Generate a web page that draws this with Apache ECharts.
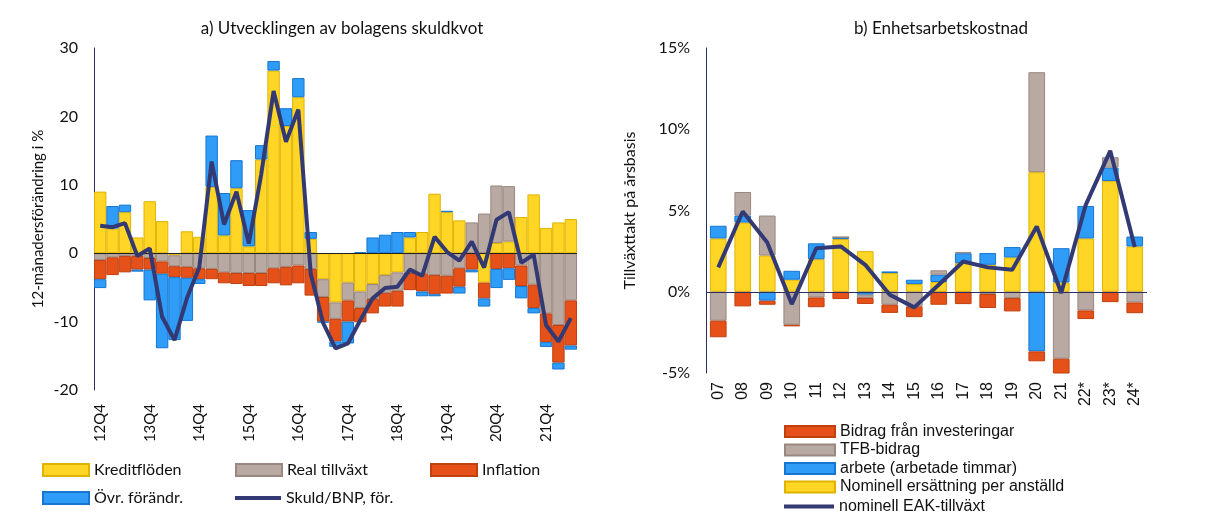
<!DOCTYPE html>
<html>
<head>
<meta charset="utf-8">
<script src="https://cdn.jsdelivr.net/npm/echarts@6/dist/echarts.min.js"></script>
<style>
  html, body { margin: 0; padding: 0; background: #fff; }
  #main { width: 1206px; height: 516px; }
</style>
</head>
<body>
<div id="main"></div>
<script>
// a) skuldkvot, kvartal
var quarters = ['12Q4','13Q1','13Q2','13Q3','13Q4','14Q1','14Q2','14Q3','14Q4','15Q1','15Q2','15Q3','15Q4',
  '16Q1','16Q2','16Q3','16Q4','17Q1','17Q2','17Q3','17Q4','18Q1','18Q2','18Q3','18Q4','19Q1','19Q2','19Q3','19Q4',
  '20Q1','20Q2','20Q3','20Q4','21Q1','21Q2','21Q3','21Q4','22Q1','22Q2'];
var kredit = [9.0, 3.6, 6.0, 2.3, 7.6, 4.7, -0.3, 3.2, 2.4, 9.7, 2.6, 9.5, 1.0, 13.7, 26.7, 18.6, 22.8, 2.1,
  -3.8, -7.2, -4.3, -5.6, -4.5, -3.2, -2.8, 2.3, 3.1, 8.7, 6.0, 4.8, 0, -4.3, 1.5, 1.7, 5.3, 8.6, 3.7, 4.5, 5.0];
var realTillvaxt = [-1.0, -0.6, -0.4, -0.4, -0.7, -1.2, -1.6, -2.0, -2.2, -2.3, -2.8, -2.9, -2.9, -2.9, -2.2, -2.0,
  -1.8, -2.3, -2.6, -2.4, -2.6, -2.4, -2.2, -2.6, -2.7, -2.9, -3.0, -3.2, -3.3, -2.2, 4.5, 5.8, 8.4, 8.1, -1.8,
  -4.6, -8.8, -10.5, -6.9];
var inflation = [-2.8, -2.6, -2.4, -2.0, -1.7, -1.8, -1.6, -1.6, -1.6, -1.5, -1.6, -1.6, -1.9, -1.9, -2.2, -2.7,
  -2.6, -3.9, -3.6, -3.3, -3.1, -2.1, -2.1, -2.0, -2.3, -2.5, -2.6, -2.8, -2.6, -2.7, -2.4, -2.3, -2.3, -2.2, -3.0,
  -3.4, -4.2, -5.5, -6.6];
var ovrForandr = [-1.3, 3.3, 1.1, -0.3, -4.5, -10.9, -9.2, -6.3, -0.7, 7.5, 6.2, 4.1, 5.3, 2.1, 1.4, 2.6, 2.8, 1.0,
  -0.15, -0.8, -3.2, 0.15, 2.3, 2.7, 3.1, 0.8, -0.7, -0.3, 0.2, -1.0, -0.4, -1.2, -2.8, -1.7, -1.8, -0.8, -0.7,
  -1.0, -0.6];
var skuldBnp = [4.0, 3.8, 4.4, -0.4, 0.7, -9.3, -12.7, -6.6, -2.1, 13.4, 4.2, 9.0, 1.4, 11.5, 23.7, 16.3, 21.0,
  -3.0, -10.2, -13.9, -13.2, -9.8, -6.6, -5.1, -4.9, -2.4, -3.3, 2.4, 0.2, -1.1, 1.7, -2.1, 4.9, 6.0, -1.4, -0.2,
  -10.5, -12.9, -9.5];

// b) enhetsarbetskostnad, år
var years = ['07','08','09','10','11','12','13','14','15','16','17','18','19','20','21','22*','23*','24*'];
var nomErs = [3.28, 4.26, 2.23, 0.74, 2.0, 3.24, 2.5, 1.15, 0.47, 0.6, 1.76, 1.66, 2.11, 7.36, 0.57, 3.28, 6.82, 2.79];
var arbete = [0.78, 0.43, -0.55, 0.55, 0.98, 0.12, -0.18, 0.1, 0.27, 0.45, 0.61, 0.72, 0.64, -3.67, 2.11, 2.0, 0.82, 0.61];
var tfb = [-1.78, 1.45, 2.46, -2.03, -0.35, 0, -0.2, -0.8, -0.9, 0.27, 0.08, -0.14, -0.39, 6.15, -4.12, -1.15, 0.64, -0.66];
var invest = [-1.02, -0.9, -0.25, -0.1, -0.6, -0.45, -0.37, -0.5, -0.66, -0.8, -0.76, -0.86, -0.82, -0.61, -0.92, -0.53, -0.64, -0.66];
var eak = [1.5, 4.94, 3.03, -0.76, 2.68, 2.79, 1.66, -0.18, -0.96, 0.43, 1.86, 1.5, 1.35, 4.02, -0.08, 5.35, 8.67, 2.75];

var YEL = '#FFD626', YEL_B = '#E0B300';
var GRY = '#B8A9A3', GRY_B = '#9A877F';
var ORA = '#E65119', ORA_B = '#C0400F';
var BLU = '#2F9CF7', BLU_B = '#1676D0';
var NAVY = '#333A73';
var calib = 'Lato';
var arial = 'Liberation Sans';

function bar(name, data, col, border, xi, yi, stack) {
  return {
    name: name, type: 'bar', stack: stack, xAxisIndex: xi, yAxisIndex: yi, data: data,
    barCategoryGap: xi === 0 ? '0%' : '32%',
    itemStyle: { color: col, borderColor: border, borderWidth: 1 },
    emphasis: { disabled: true }
  };
}

// en legendpost per komponent, så att de kan placeras fritt
function legendItem(name, left, top, w, h, font) {
  return {
    data: [name], left: left, top: top, itemWidth: w, itemHeight: h, itemGap: 6,
    icon: 'rect', selectedMode: false,
    textStyle: { fontFamily: font, fontSize: 16, color: '#111' }
  };
}

var chart = echarts.init(document.getElementById('main'), null, { renderer: 'canvas' });
var option = {
  animation: false,
  title: [
    { text: 'a) Utvecklingen av bolagens skuldkvot', left: 337, top: 15, textAlign: 'center',
      textStyle: { fontFamily: calib, fontSize: 17, fontWeight: 'normal', color: '#111' } },
    { text: 'b) Enhetsarbetskostnad', left: 936, top: 15, textAlign: 'center',
      textStyle: { fontFamily: calib, fontSize: 17, fontWeight: 'normal', color: '#111' } }
  ],
  grid: [
    { left: 94, top: 48, width: 483, height: 342 },
    { left: 706, top: 48, width: 441, height: 325 }
  ],
  legend: [
    legendItem('Kreditflöden', 37, 457, 46, 12, calib),
    legendItem('Real tillväxt', 230, 457, 46, 12, calib),
    legendItem('Inflation', 425, 457, 46, 12, calib),
    legendItem('Övr. förändr.', 37, 485, 46, 12, calib),
    legendItem('Skuld/BNP, för.', 230, 485, 46, 4, calib),
    {
      orient: 'vertical', left: 779, top: 418, itemWidth: 50, itemHeight: 11, itemGap: 1.5,
      icon: 'rect', selectedMode: false,
      data: ['Bidrag från investeringar', 'TFB-bidrag', 'arbete (arbetade timmar)',
        'Nominell ersättning per anställd'],
      textStyle: { fontFamily: arial, fontSize: 16, color: '#111', lineHeight: 17 }
    },
    {
      left: 779, top: 493, itemWidth: 50, itemHeight: 4, icon: 'rect', selectedMode: false,
      data: ['nominell EAK-tillväxt'],
      textStyle: { fontFamily: arial, fontSize: 16, color: '#111', lineHeight: 17 }
    }
  ],
  xAxis: [
    {
      type: 'category', gridIndex: 0, data: quarters, position: 'bottom',
      axisLine: { show: false }, axisTick: { show: false },
      axisLabel: { rotate: 90, interval: 3, margin: 14, fontFamily: calib, fontSize: 15, color: '#111' }
    },
    {
      type: 'category', gridIndex: 1, data: years, position: 'bottom',
      axisLine: { show: false }, axisTick: { show: false },
      axisLabel: { rotate: 90, interval: 0, margin: 9, fontFamily: arial, fontSize: 16, color: '#111' }
    }
  ],
  yAxis: [
    {
      type: 'value', gridIndex: 0, min: -20, max: 30, interval: 10,
      name: '12-månadersförändring i %', nameLocation: 'middle', nameRotate: 90, nameGap: 48,
      nameTextStyle: { fontFamily: calib, fontSize: 15, color: '#111' },
      axisLine: { show: true, lineStyle: { color: '#2B2D5E', width: 1 } },
      axisTick: { show: false }, splitLine: { show: false },
      axisLabel: { margin: 16, fontFamily: calib, fontSize: 16, color: '#111' }
    },
    {
      type: 'value', gridIndex: 1, min: -5, max: 15, interval: 5,
      name: 'Tillväxttakt på årsbasis', nameLocation: 'middle', nameRotate: 90, nameGap: 68,
      nameTextStyle: { fontFamily: calib, fontSize: 16, color: '#111' },
      axisLine: { show: true, lineStyle: { color: '#2B2D5E', width: 1 } },
      axisTick: { show: false }, splitLine: { show: false },
      axisLabel: { margin: 16, formatter: '{value}%', fontFamily: calib, fontSize: 16, color: '#111' }
    }
  ],
  series: [
    bar('Kreditflöden', kredit, YEL, YEL_B, 0, 0, 'a'),
    bar('Real tillväxt', realTillvaxt, GRY, GRY_B, 0, 0, 'a'),
    bar('Inflation', inflation, ORA, ORA_B, 0, 0, 'a'),
    bar('Övr. förändr.', ovrForandr, BLU, BLU_B, 0, 0, 'a'),
    {
      name: 'Skuld/BNP, för.', type: 'line', xAxisIndex: 0, yAxisIndex: 0, data: skuldBnp,
      symbol: 'none', lineStyle: { color: NAVY, width: 4 }, itemStyle: { color: NAVY },
      z: 5,
      markLine: {
        silent: true, symbol: 'none', label: { show: false },
        lineStyle: { color: '#222', width: 1, type: 'solid' },
        data: [{ yAxis: 0 }]
      }
    },
    bar('Nominell ersättning per anställd', nomErs, YEL, YEL_B, 1, 1, 'b'),
    bar('arbete (arbetade timmar)', arbete, BLU, BLU_B, 1, 1, 'b'),
    bar('TFB-bidrag', tfb, GRY, GRY_B, 1, 1, 'b'),
    bar('Bidrag från investeringar', invest, ORA, ORA_B, 1, 1, 'b'),
    {
      name: 'nominell EAK-tillväxt', type: 'line', xAxisIndex: 1, yAxisIndex: 1, data: eak,
      symbol: 'none', lineStyle: { color: NAVY, width: 4 }, itemStyle: { color: NAVY },
      z: 5,
      markLine: {
        silent: true, symbol: 'none', label: { show: false },
        lineStyle: { color: '#2B2D5E', width: 1, type: 'solid' },
        data: [{ yAxis: 0 }]
      }
    }
  ]
};
chart.setOption(option);
</script>
</body>
</html>
